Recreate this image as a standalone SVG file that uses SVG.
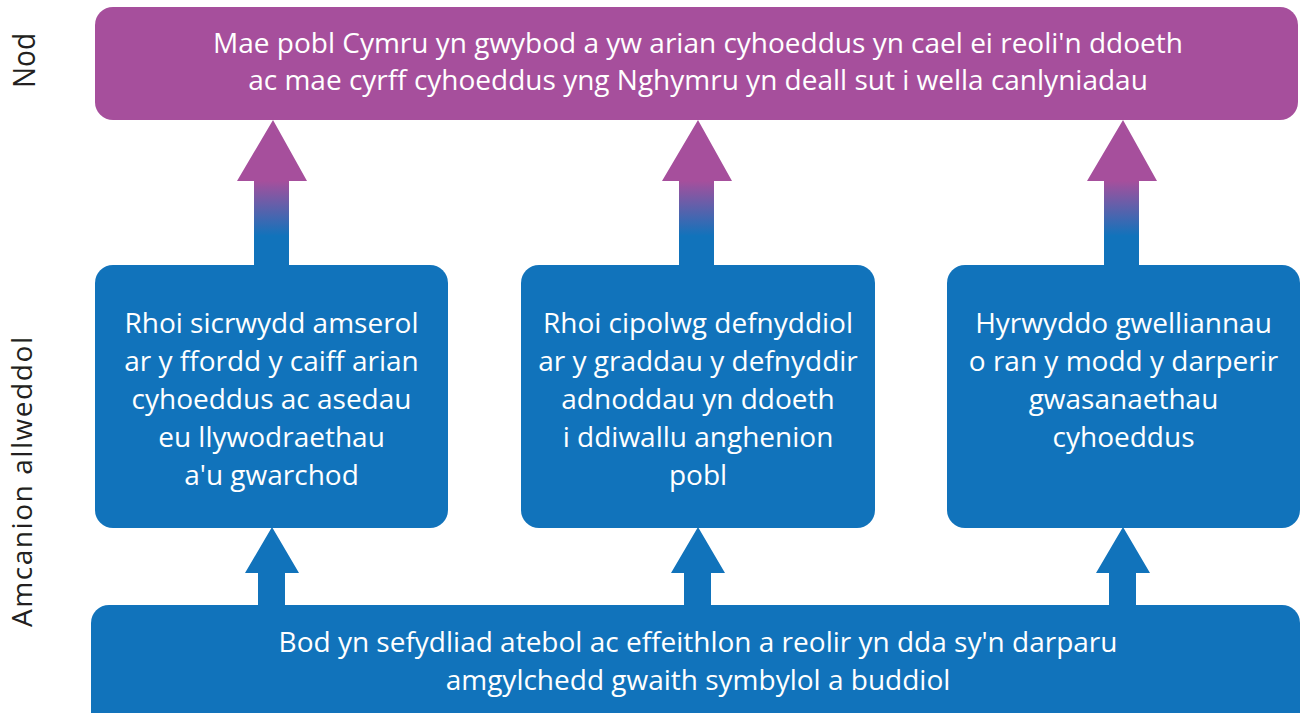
<svg xmlns="http://www.w3.org/2000/svg" width="1301" height="713" viewBox="0 0 1301 713">
<defs>
<linearGradient id="g" gradientUnits="userSpaceOnUse" x1="0" y1="120" x2="0" y2="265">
<stop offset="0.42" stop-color="#a64f9c"/>
<stop offset="0.8" stop-color="#1173bb"/>
</linearGradient>
<style>
.p{fill:#a64f9c}
.b{fill:#1173bb}
.t{font-family:"Open Sans","Noto Sans",sans-serif;font-size:28px;fill:#fff;text-anchor:middle}
.s{font-family:"Open Sans","Noto Sans",sans-serif;fill:#231f20;text-anchor:middle}
.ga{fill:url(#g)}
</style>
</defs>
<rect width="1301" height="713" fill="#fff"/>
<text class="s" font-size="31" textLength="55" lengthAdjust="spacingAndGlyphs" transform="translate(35,60.5) rotate(-90)">Nod</text>
<text class="s" font-size="28" textLength="290" transform="translate(32,482) rotate(-90)">Amcanion allweddol</text>
<g id="connectors">
<path class="ga" d="M273,120 L307,181 L289,181 L289,266 L254,266 L254,181 L237,181 Z"/>
<path class="ga" d="M698,120 L732,181 L714,181 L714,266 L679,266 L679,181 L662,181 Z"/>
<path class="ga" d="M1123,120 L1157,181 L1139,181 L1139,266 L1104,266 L1104,181 L1087,181 Z"/>
<path class="b" d="M272,527 L299,573 L285,573 L285,606 L258,606 L258,573 L245,573 Z"/>
<path class="b" d="M698,527 L725,573 L711,573 L711,606 L684,606 L684,573 L671,573 Z"/>
<path class="b" d="M1123,527 L1150,573 L1136,573 L1136,606 L1109,606 L1109,573 L1096,573 Z"/>
</g>
<g id="nod">
<rect class="p" x="95" y="7" width="1203" height="113" rx="18"/>
<text class="t" x="698" y="53">Mae pobl Cymru yn gwybod a yw arian cyhoeddus yn cael ei reoli'n ddoeth</text>
<text class="t" x="698" y="90">ac mae cyrff cyhoeddus yng Nghymru yn deall sut i wella canlyniadau</text>
</g>
<g id="amcan1">
<rect class="b" x="95" y="265" width="353" height="263" rx="18"/>
<text class="t" x="271.5" y="333">Rhoi sicrwydd amserol</text>
<text class="t" x="271.5" y="371">ar y ffordd y caiff arian</text>
<text class="t" x="271.5" y="409">cyhoeddus ac asedau</text>
<text class="t" x="271.5" y="447">eu llywodraethau</text>
<text class="t" x="271.5" y="485">a'u gwarchod</text>
</g>
<g id="amcan2">
<rect class="b" x="521" y="265" width="354" height="263" rx="18"/>
<text class="t" x="698" y="333">Rhoi cipolwg defnyddiol</text>
<text class="t" x="698" y="371">ar y graddau y defnyddir</text>
<text class="t" x="698" y="409">adnoddau yn ddoeth</text>
<text class="t" x="698" y="447">i ddiwallu anghenion</text>
<text class="t" x="698" y="485">pobl</text>
</g>
<g id="amcan3">
<rect class="b" x="947" y="265" width="353" height="263" rx="18"/>
<text class="t" x="1123.5" y="333">Hyrwyddo gwelliannau</text>
<text class="t" x="1123.5" y="371">o ran y modd y darperir</text>
<text class="t" x="1123.5" y="409">gwasanaethau</text>
<text class="t" x="1123.5" y="447">cyhoeddus</text>
</g>
<g id="sylfaen">
<rect class="b" x="91" y="605" width="1209" height="125" rx="18"/>
<text class="t" x="698" y="652">Bod yn sefydliad atebol ac effeithlon a reolir yn dda sy'n darparu</text>
<text class="t" x="698" y="690">amgylchedd gwaith symbylol a buddiol</text>
</g>
</svg>
